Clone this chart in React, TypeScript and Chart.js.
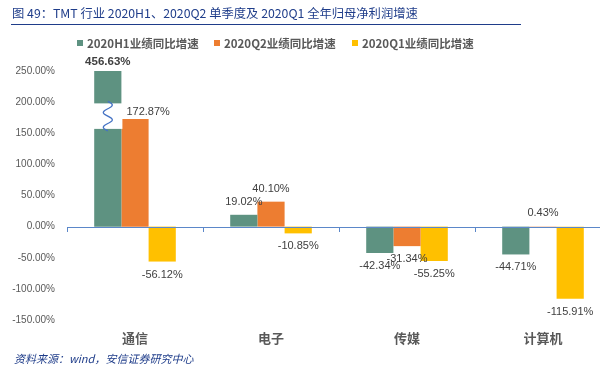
import React, { useEffect, useRef } from "react";
import { Chart, registerables } from "chart.js";
Chart.register(...registerables);

const titleText = "图 49：TMT 行业 2020H1、2020Q2 单季度及 2020Q1 全年归母净利润增速";
const sourceText = "资料来源：wind，安信证券研究中心";
const categories = ["通信", "电子", "传媒", "计算机"];
const seriesNames = ["2020H1业绩同比增速", "2020Q2业绩同比增速", "2020Q1业绩同比增速"];
const h1Values = [456.63, 19.02, -42.34, -44.71];
const q2Values = [172.87, 40.1, -31.34, 0.43];
const q1Values = [-56.12, -10.85, -55.25, -115.91];
const yTicks = [-150, -100, -50, 0, 50, 100, 150, 200, 250];
const axisBreak = [157, 198];
const seriesColors = ["#5E9281", "#ED7D31", "#FFC000"];

const Y_MIN = yTicks[0];
const Y_MAX = yTicks[yTicks.length - 1];
const allSeries = [h1Values, q2Values, q1Values];

const decorPlugin = {
  id: "decor",
  afterDatasetsDraw(chart: any) {
    const ctx = chart.ctx;
    const xs = chart.scales.x;
    const ys = chart.scales.y;
    const area = chart.chartArea;
    const y0 = ys.getPixelForValue(0);
    const yHi = ys.getPixelForValue(axisBreak[1]);
    const yLo = ys.getPixelForValue(axisBreak[0]);
    const brokenRight: Record<number, number> = {};
    ctx.save();
    // axis breaks
    chart.data.datasets.forEach((ds: any, di: number) => {
      const meta = chart.getDatasetMeta(di);
      ds.rawValues.forEach((v: number, i: number) => {
        if (v <= Y_MAX) return;
        const bar = meta.data[i];
        const half = bar.width / 2;
        brokenRight[i] = bar.x + half;
        ctx.fillStyle = "#ffffff";
        ctx.fillRect(bar.x - half - 1, yHi, bar.width + 2, yLo - yHi);
        ctx.strokeStyle = "#4472C4";
        ctx.lineWidth = 1.3;
        ctx.beginPath();
        const steps = 40;
        const cx = bar.x;
        for (let s = 0; s <= steps; s++) {
          const t = s / steps;
          const yy = yHi - 2 + t * (yLo - yHi + 4);
          const xx = cx + 4.5 * Math.sin(t * Math.PI * 4);
          if (s === 0) ctx.moveTo(xx, yy);
          else ctx.lineTo(xx, yy);
        }
        ctx.stroke();
      });
    });
    // zero axis line + ticks
    ctx.strokeStyle = "#5B87C9";
    ctx.lineWidth = 1;
    ctx.beginPath();
    ctx.moveTo(area.left, Math.round(y0) + 0.5);
    ctx.lineTo(area.right, Math.round(y0) + 0.5);
    const n = categories.length;
    const w = (xs.right - xs.left) / n;
    for (let i = 0; i <= n; i++) {
      const x = Math.round(xs.left + i * w) + 0.5;
      ctx.moveTo(x, Math.round(y0));
      ctx.lineTo(x, Math.round(y0) + 5);
    }
    ctx.stroke();
    // data labels
    ctx.textBaseline = "middle";
    ctx.fillStyle = "#404040";
    chart.data.datasets.forEach((ds: any, di: number) => {
      const meta = chart.getDatasetMeta(di);
      ds.rawValues.forEach((v: number, i: number) => {
        const bar = meta.data[i];
        const broken = v > Y_MAX;
        ctx.font = (broken ? "bold 11.5px" : "11px") + " 'Liberation Sans', Arial, sans-serif";
        const text = v.toFixed(2) + "%";
        let y = v >= 0 ? bar.y - (broken ? 9 : 13) : bar.y + 13;
        ctx.textAlign = "center";
        let x = bar.x;
        if (!broken && v >= 0 && brokenRight[i] !== undefined && y > yHi - 8 && y < yLo + 8) {
          y = bar.y - 7;
          ctx.textAlign = "left";
          x = brokenRight[i] + 5;
        }
        ctx.fillText(text, x, y);
      });
    });
    ctx.restore();
  },
};

export default function App() {
  const ref = useRef<HTMLCanvasElement | null>(null);
  useEffect(() => {
    if (!ref.current) return;
    const chart = new Chart(ref.current, {
      type: "bar",
      data: {
        labels: categories,
        datasets: allSeries.map((vals, i) => ({
          label: seriesNames[i],
          data: vals.map((v) => Math.min(v, Y_MAX)),
          rawValues: vals,
          backgroundColor: seriesColors[i],
          borderWidth: 0,
          barPercentage: 1,
          categoryPercentage: 0.6,
        })) as any,
      },
      options: {
        responsive: false,
        animation: false,
        devicePixelRatio: 1,
        layout: { padding: { top: 71, right: 9, left: 0, bottom: 0 } },
        plugins: { legend: { display: false }, title: { display: false }, tooltip: { enabled: false } },
        scales: {
          x: {
            grid: { display: false, drawTicks: false },
            border: { display: false },
            ticks: {
              color: "#595959",
              font: { family: "'Noto Sans CJK SC', sans-serif", size: 13, weight: "bold" },
              padding: 10,
            },
            afterFit: (s: any) => {
              s.height = 55;
            },
          },
          y: {
            min: Y_MIN,
            max: Y_MAX,
            grid: { display: false, drawTicks: false },
            border: { display: false },
            ticks: {
              color: "#595959",
              font: { family: "'Liberation Sans', Arial, sans-serif", size: 10 },
              padding: 12,
              callback: (v: any) => Number(v).toFixed(2) + "%",
            },
            afterBuildTicks: (s: any) => {
              s.ticks = yTicks.map((v) => ({ value: v }));
            },
            afterFit: (s: any) => {
              s.width = 67;
            },
          },
        },
      },
      plugins: [decorPlugin],
    } as any);
    return () => chart.destroy();
  }, []);

  const legendX = [77, 214, 352];
  return (
    <div
      style={{
        position: "fixed",
        left: 0,
        top: 0,
        width: 600,
        height: 375,
        overflow: "hidden",
        background: "#fff",
      }}
    >
      <canvas ref={ref} width={620} height={375} style={{ position: "absolute", left: 0, top: 0 }} />
      <div
        style={{
          position: "absolute",
          left: 12,
          top: 4,
          fontFamily: "'Noto Sans CJK SC', sans-serif",
          fontSize: 12.3,
          lineHeight: "18px",
          color: "#1F3D8A",
          whiteSpace: "nowrap",
        }}
      >
        {titleText}
      </div>
      <div style={{ position: "absolute", left: 11, top: 24, width: 510, height: 1, background: "#1F3D8A" }} />
      {seriesNames.map((name, i) => (
        <div
          key={name}
          style={{
            position: "absolute",
            left: legendX[i],
            top: 34,
            height: 18,
            display: "flex",
            alignItems: "center",
            whiteSpace: "nowrap",
            fontFamily: "'Noto Sans CJK SC', sans-serif",
            fontSize: 11.5,
            fontWeight: "bold",
            color: "#595959",
          }}
        >
          <span style={{ display: "inline-block", width: 6, height: 6, background: seriesColors[i], marginRight: 4 }} />
          {name}
        </div>
      ))}
      <div
        style={{
          position: "absolute",
          left: 14,
          top: 350,
          fontFamily: "'Noto Sans CJK SC', sans-serif",
          fontSize: 11,
          fontStyle: "italic",
          color: "#1F3D8A",
          whiteSpace: "nowrap",
        }}
      >
        {sourceText}
      </div>
    </div>
  );
}
